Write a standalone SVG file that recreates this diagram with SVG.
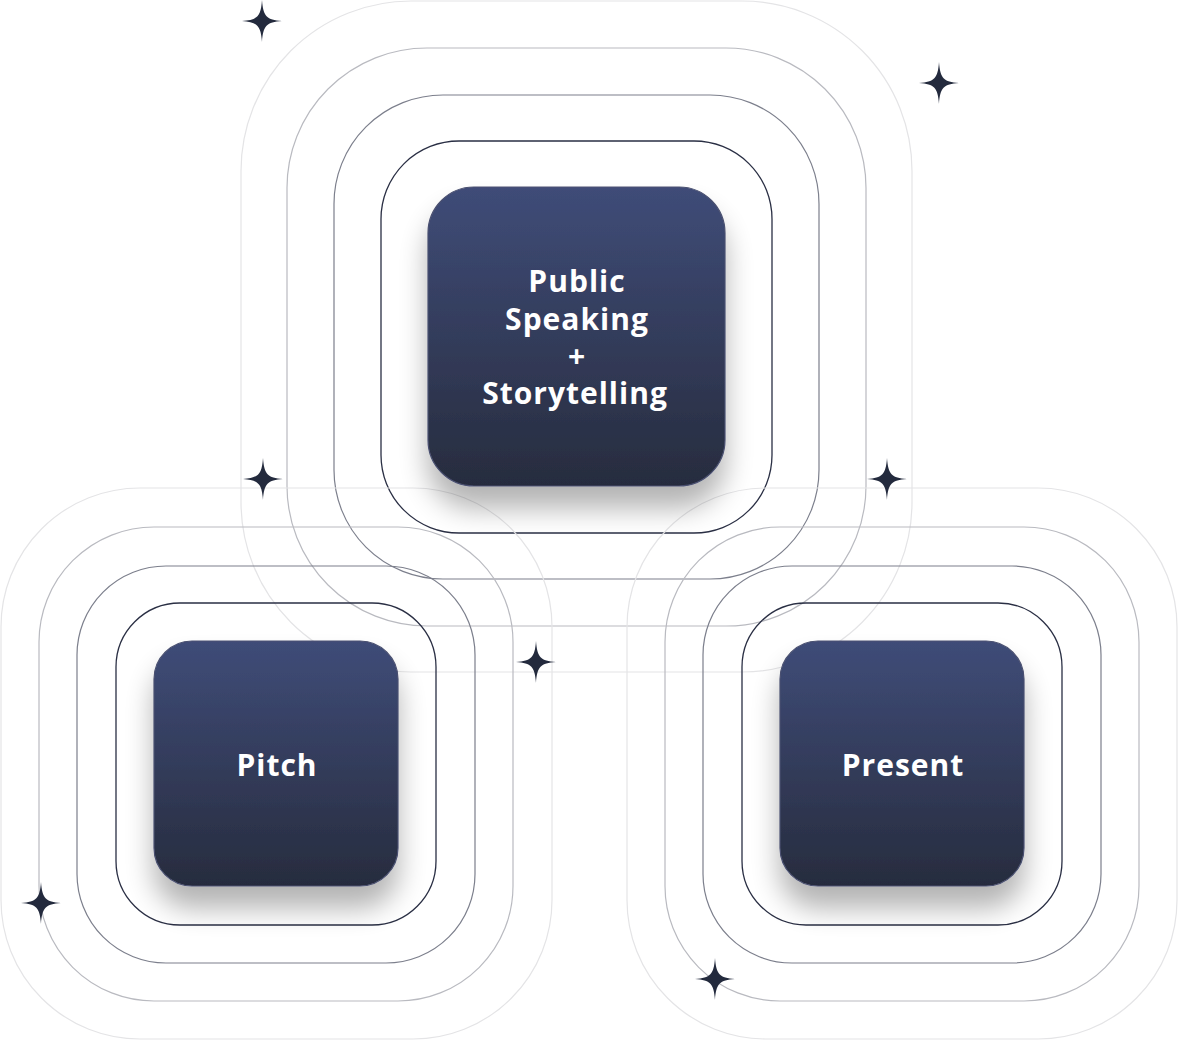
<svg xmlns="http://www.w3.org/2000/svg" width="1179" height="1041" viewBox="0 0 1179 1041">
<defs>
<linearGradient id="boxGrad" x1="0" y1="0" x2="0" y2="1">
<stop offset="0" stop-color="#3f4c78"/>
<stop offset="1" stop-color="#272c3e"/>
</linearGradient>
<filter id="shadow" x="-30%" y="-30%" width="160%" height="170%">
<feGaussianBlur in="SourceAlpha" stdDeviation="14"/>
<feOffset dx="0" dy="22" result="b"/>
<feComponentTransfer><feFuncA type="linear" slope="0.3"/></feComponentTransfer>
<feMerge><feMergeNode/><feMergeNode in="SourceGraphic"/></feMerge>
</filter>
<path id="star" d="M0,-21 C1.2,-4.5 4.5,-1.2 20,0 C4.5,1.2 1.2,4.5 0,21 C-1.2,4.5 -4.5,1.2 -20,0 C-4.5,-1.2 -1.2,-4.5 0,-21 Z"/>
</defs>
<style>
.r1{fill:none;stroke:#2a2f44;stroke-width:1.3}
.r2{fill:none;stroke:#7c7f8c;stroke-width:1.2}
.r3{fill:none;stroke:#b9bac0;stroke-width:1.2}
.r4{fill:none;stroke:#e4e4e6;stroke-width:1.2}
.box{fill:url(#boxGrad);stroke:#4a5070;stroke-width:1.2;filter:url(#shadow)}
.lbl{fill:#ffffff;font-family:"Open Sans","Noto Sans",sans-serif;font-weight:700;font-size:30px;letter-spacing:1px;text-anchor:middle}
.star{fill:#232a3d}
</style>
<rect width="1179" height="1041" fill="#ffffff"/>
<g id="rings">
<rect class="r4" x="241" y="1" width="671" height="671" rx="170"/>
<rect class="r3" x="287" y="48" width="579" height="578" rx="140"/>
<rect class="r2" x="334" y="95" width="485" height="484" rx="109"/>
<rect class="r1" x="381" y="141" width="391" height="392" rx="78"/>
<rect class="r4" x="1" y="488" width="551" height="551" rx="139"/>
<rect class="r3" x="39" y="527" width="474" height="474" rx="115"/>
<rect class="r2" x="77" y="566" width="398" height="397" rx="89"/>
<rect class="r1" x="116" y="603" width="320" height="322" rx="64"/>
<rect class="r4" x="627" y="488" width="550" height="551" rx="139"/>
<rect class="r3" x="665" y="527" width="474" height="474" rx="115"/>
<rect class="r2" x="703" y="566" width="398" height="397" rx="89"/>
<rect class="r1" x="742" y="603" width="320" height="322" rx="64"/>
</g>
<g id="node-public-speaking">
<rect class="box" x="428" y="187" width="297" height="299" rx="46"/>
<text class="lbl" x="577" y="292">Public</text>
<text class="lbl" x="577" y="330">Speaking</text>
<text class="lbl" x="577" y="367">+</text>
<text class="lbl" x="575" y="404">Storytelling</text>
</g>
<g id="node-pitch">
<rect class="box" x="154" y="641" width="244" height="245" rx="38"/>
<text class="lbl" x="277" y="776">Pitch</text>
</g>
<g id="node-present">
<rect class="box" x="780" y="641" width="244" height="245" rx="38"/>
<text class="lbl" x="903" y="776">Present</text>
</g>
<g id="stars" class="star">
<use href="#star" x="262" y="21"/>
<use href="#star" x="939" y="83"/>
<use href="#star" x="263" y="479"/>
<use href="#star" x="887" y="479"/>
<use href="#star" x="536" y="662"/>
<use href="#star" x="41" y="903"/>
<use href="#star" x="715" y="979"/>
</g>
</svg>
